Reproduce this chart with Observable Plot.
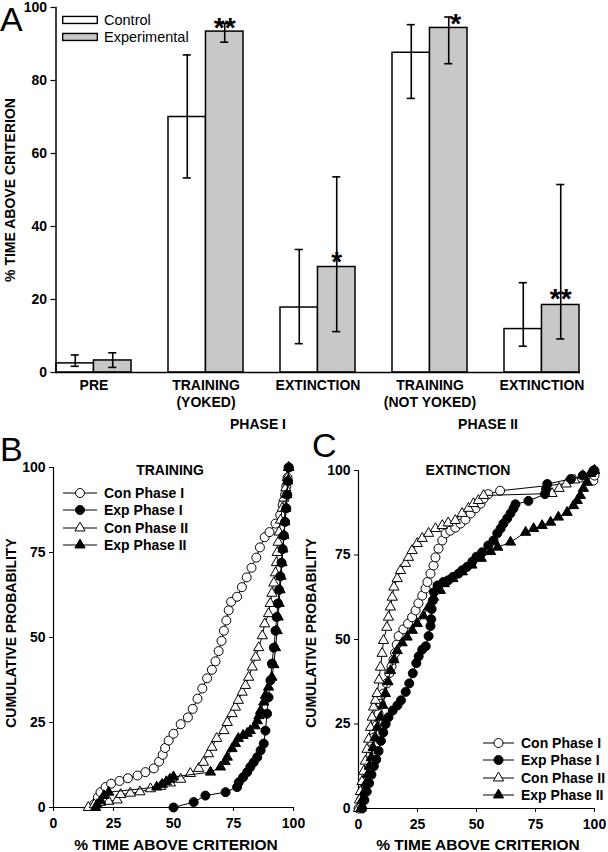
<!DOCTYPE html>
<html><head><meta charset="utf-8">
<script src="https://cdn.jsdelivr.net/npm/d3@7"></script>
<script src="https://cdn.jsdelivr.net/npm/@observablehq/plot@0.6"></script>
<style>
body{margin:0;background:#fff;}
#root{position:relative;width:608px;height:852px;font-family:"Liberation Sans",Arial,sans-serif;color:#000;overflow:hidden;background:#fff;}
#root svg{overflow:visible;}
.abs{position:absolute;white-space:nowrap;line-height:1;}
.b{font-weight:bold;font-size:14px;}
.xt{font-weight:bold;font-size:15.5px;}
.big{font-size:34px;font-weight:normal;}
.rot{transform:translate(-50%,-50%) rotate(-90deg);}
.ctr{transform:translate(-50%,-50%);}
.vc{transform:translateY(-50%);display:flex;align-items:center;}
</style></head><body><div id="root"></div>
<script>
// ---------- Panel A data ----------
const groupKeys = ["PRE", "TRAIN_Y", "EXT_I", "TRAIN_NY", "EXT_II"];
const groupLabels = ["PRE", "TRAINING\n(YOKED)", "EXTINCTION", "TRAINING\n(NOT YOKED)", "EXTINCTION"];
const conditions = ["Control", "Experimental"];
const controlMean = [2.5, 70.0, 17.8, 87.6, 11.9];
const controlLo   = [1.7, 53.3, 7.9, 75.1, 7.2];
const controlHi   = [4.8, 87.0, 33.7, 95.3, 24.6];
const expMean     = [3.3, 93.4, 28.9, 94.4, 18.5];
const expLo       = [1.4, 90.5, 11.2, 84.6, 9.2];
const expHi       = [5.4, 95.6, 53.6, 97.4, 51.5];
const sigMark     = ["", "**", "*", "*", "**"];
const sigY        = [null, 95.3, 31.1, 96.2, 21.0];
const yTicksA     = [0, 20, 40, 60, 80, 100];
const phaseLabels = ["PHASE I", "PHASE II"];

// ---------- Panel B/C data: [x = % time above criterion, y = cumulative probability] ----------
const seriesNames = ["Con Phase I", "Exp Phase I", "Con Phase II", "Exp Phase II"];
const cdfTicks = [0, 25, 50, 75, 100];

const trainConI = [[17,1],[18.5,3],[19.6,4.5],[21.7,6],[24,7],[27.5,7.8],[31,8.6],[35,9.4],[38.3,10.4],[41.8,11.5],[44,13.5],[45.5,15.5],[46.5,17.5],[48,19.7],[50,21.7],[53,24.5],[56,26.5],[58,29],[60,32],[62,35],[64,38],[66,40.5],[67.5,43],[68.8,46],[70,49],[71,52],[72,55],[73,58],[74,60.5],[76.5,62],[78.5,64.8],[80.5,67.7],[82.5,70.5],[84.5,73.5],[86,76.5],[88,79.5],[90,81],[92.5,83.5],[94.5,86],[95.5,89],[96.5,92],[97,94.5],[97.5,97],[98,100]];
const trainExpI = [[50,0],[58.4,1.6],[63.3,3.5],[71.7,4.5],[76.5,6],[77.2,7.4],[79,8.9],[80.7,10.4],[82,11.9],[83.4,13.3],[84.9,14.8],[86.3,16.8],[87.6,18.8],[88.3,22.6],[89,27.6],[89.6,32.4],[90.4,37.4],[91,42.3],[91.8,47],[92.5,52],[93,56],[93.5,60],[94,64],[94.5,68],[95,72],[95.5,76],[96,80],[96.5,84],[97,88],[97.4,92],[97.7,96],[98,100]];
const trainConII = [[14.5,0],[17,0.8],[19.6,1.5],[23,1.8],[26.5,2.2],[28,3.8],[32,4.2],[36,4.6],[40.4,5.5],[44.6,6.2],[48.7,7.2],[53,8.3],[57,10],[60.5,11.5],[62.5,13.3],[64.6,15.8],[66,17.7],[68,20.3],[71,22.6],[72.4,25],[74.4,27.6],[75.8,29.5],[77,31.5],[78.6,33.9],[80,35.9],[81.3,38.3],[82.8,41.3],[84.2,44.2],[85.5,47],[87,50.5],[88,54],[89.6,57],[90.3,60],[91,63],[91.8,66],[92.5,69],[92.9,72],[93.2,75],[93.6,78],[94,81],[94.6,84.5],[95.3,88],[96,91],[96.8,94],[97.4,97],[98,100]];
const trainExpII = [[17.5,0],[18.2,0.8],[19.6,2],[21,3.5],[23,4.5],[43,6],[45.3,6.8],[47,7.6],[48.5,8.3],[50,9],[65.4,10.4],[69.6,11.9],[71.5,13.5],[72.4,14.8],[74.4,17.3],[75.8,18.8],[77,20.3],[79,21.2],[80.7,21.8],[82,22.6],[84,24],[84.9,25.5],[85.6,27],[86.3,28.5],[87.6,31],[88.3,33],[89.6,35.4],[91,38.3],[91.8,42],[92.5,47],[93.2,52],[93.6,56],[94,60],[94.4,64],[94.8,68],[95.2,72],[95.6,76],[96,80],[96.4,84],[96.8,88],[97.2,92],[97.6,96],[98,100]];

const extConI = [[0,0],[1,2.5],[2,5],[3,8],[3.7,11],[4.5,14],[5.5,17.5],[6.5,21],[7.5,24.5],[8.5,28],[9.5,31],[10.5,34],[12,37],[13,40],[14,42],[14.8,44],[15.5,46],[16.2,48.5],[17,51],[19,53],[21,54.7],[22.7,56.6],[24.2,58.6],[25.4,60.7],[27,63],[28.4,65.1],[29.2,67],[30.5,69.5],[31.8,71.9],[32.6,74.3],[33.9,76.9],[35.5,79.3],[36.9,81.4],[38.9,82.2],[41,83.1],[43.2,84.3],[45.3,85.5],[47.5,87.3],[49.6,88.8],[51.7,90.2],[53,91.7],[55,93],[60,94],[99.5,97],[100,98.5],[100,100]];
const extExpI = [[1.5,0],[2.5,2.5],[3.5,5],[4.5,7.5],[5.5,10],[6.5,12.5],[7.5,14.5],[8.5,17],[9.5,20],[10.5,22.5],[11.5,25],[12.7,27],[14.5,29],[16.5,30.5],[18,32],[20,34.5],[21.5,37],[23,40],[24.5,43],[25.5,45],[27,47],[28.5,48],[29.7,51],[30.5,54],[30.8,56],[31,59],[31.5,61.5],[32,64],[33.5,66],[36,67],[38,67.5],[40,68.5],[42.4,69.5],[44,70.5],[46,71.5],[48.2,73],[50,74.5],[52.4,75.8],[55,77.8],[57.2,79.3],[58.8,81.4],[60.2,82.8],[61.4,84.3],[63,85.8],[64.4,87.3],[65.7,88.8],[66.5,90],[72,91],[79,93],[79.5,94.5],[80,96],[90,97.5],[95,98.5],[99.6,100]];
const extConII = [[0,0],[0.4,2.5],[0.8,5],[1.5,8],[2.2,11],[2.9,14],[3.6,17.5],[4.3,20.5],[5.1,24],[5.8,27],[6.4,30],[7.2,32],[7.9,34],[8.7,38],[9.3,41.8],[10,45.9],[10.6,49.7],[12,53.6],[12.7,56.6],[13.5,59.6],[14.3,62.5],[15,65.5],[16.4,68],[17.8,70.4],[19.9,72.5],[21.2,74.3],[22.7,76.3],[24.9,78.4],[27,79.9],[29.7,81.4],[32.6,82.8],[35.5,83.7],[38,84.5],[41,85.2],[43.9,87.3],[46.6,88.8],[48.7,90.2],[50.8,91.1],[53,92.6],[82,93.2],[85,94.7],[88,96],[91.5,97.2],[95,98.5],[98.3,99.1],[100,100]];
const extExpII = [[1,0],[1.6,2.5],[2.5,5],[3.2,7.5],[3.9,10],[4.6,12.5],[5.4,15],[6.2,18],[7,21],[8,24],[9.3,27],[10.3,30.5],[11.4,34],[12.5,37.5],[13.6,40.8],[15,44],[16.4,46.7],[18.5,49],[20.6,50.7],[22.8,52.7],[24.9,54.7],[27.5,57],[29.7,59.6],[31.8,62.5],[34.7,64.5],[36.4,66.5],[40,68],[44,70],[48,72],[52,74],[56,76],[59,77.3],[64.4,78.8],[70.8,81.7],[74.2,82.8],[77.8,83.7],[81.4,84.7],[84.7,86.2],[88.4,87.6],[91.1,89.6],[92.7,91.1],[94,92.6],[95.3,94.7],[96.9,96.5],[98.3,99.1],[100,100]];

// ---------- helpers ----------
const root = document.getElementById("root");
const FONT = '"Liberation Sans", Arial, sans-serif';
const baseStyle = {fontFamily: FONT, fontSize: "14px", fontWeight: "bold", color: "black", background: "transparent", overflow: "visible"};
function place(el, left, top) { el.style.position = "absolute"; el.style.left = left + "px"; el.style.top = top + "px"; root.appendChild(el); }
function label(text, cls, left, top) { const d = document.createElement("div"); d.className = "abs " + cls; d.textContent = text; d.style.left = left + "px"; d.style.top = top + "px"; root.appendChild(d); return d; }

// ---------- Panel A ----------
const barRows = groupKeys.flatMap((g, i) => [
  {group: g, cond: conditions[0], mean: controlMean[i], lo: controlLo[i], hi: controlHi[i]},
  {group: g, cond: conditions[1], mean: expMean[i], lo: expLo[i], hi: expHi[i]}
]);
const conRows = barRows.filter(d => d.cond === conditions[0]);
const expRows = barRows.filter(d => d.cond === conditions[1]);
const sigRows = groupKeys.map((g, i) => ({group: g, mark: sigMark[i], y: sigY[i]})).filter(d => d.mark);

const LA = {width: 608, height: 412, mL: 55.5, mR: 28, mT: 7, mB: 40};
const pInner = 1 / 3;
const bw = (LA.width - LA.mL - LA.mR) / (groupKeys.length - pInner) * (1 - pInner);
const half = bw / 2, q = bw / 4, cap = 4;

const plotA = Plot.plot({
  width: LA.width, height: LA.height,
  marginLeft: LA.mL, marginRight: LA.mR, marginTop: LA.mT, marginBottom: LA.mB,
  style: baseStyle,
  x: {type: "band", domain: groupKeys, paddingInner: pInner, paddingOuter: 0, axis: null},
  y: {domain: [0, 100]},
  marks: [
    Plot.barY(conRows, {x: "group", y: "mean", fill: "white", stroke: "black", strokeWidth: 1.5, insetRight: half}),
    Plot.barY(expRows, {x: "group", y: "mean", fill: "#c8c8c8", stroke: "black", strokeWidth: 1.5, insetLeft: half}),
    Plot.ruleX(conRows, {x: "group", y1: "lo", y2: "hi", dx: -q, strokeWidth: 1.6}),
    Plot.ruleX(expRows, {x: "group", y1: "lo", y2: "hi", dx: q, strokeWidth: 1.6}),
    Plot.tickY(conRows, {x: "group", y: "hi", insetLeft: q - cap, insetRight: 3 * q - cap, strokeWidth: 1.6}),
    Plot.tickY(conRows, {x: "group", y: "lo", insetLeft: q - cap, insetRight: 3 * q - cap, strokeWidth: 1.6}),
    Plot.tickY(expRows, {x: "group", y: "hi", insetLeft: 3 * q - cap, insetRight: q - cap, strokeWidth: 1.6}),
    Plot.tickY(expRows, {x: "group", y: "lo", insetLeft: 3 * q - cap, insetRight: q - cap, strokeWidth: 1.6}),
    Plot.ruleY([0], {strokeWidth: 1.5}),
    Plot.frame({anchor: "left", strokeWidth: 1.5}),
    Plot.axisY({ticks: yTicksA, tickSize: 5, tickPadding: 4, label: null, fontSize: 14, fontWeight: "bold", strokeWidth: 1.2}),
    Plot.text(groupKeys, {x: d => d, text: (d, i) => groupLabels[i], frameAnchor: "bottom", lineAnchor: "top", dy: 6, lineHeight: 1.2, fontSize: 14, fontWeight: "bold"}),
    Plot.text(sigRows.filter(d => d.group !== "TRAIN_NY"), {x: "group", y: "y", text: "mark", dx: q, dy: 3, lineAnchor: "middle", fontSize: 28, fontWeight: "bold"}),
    Plot.text(sigRows.filter(d => d.group === "TRAIN_NY"), {x: "group", y: "y", text: "mark", dx: q + 7, dy: 3, lineAnchor: "middle", fontSize: 28, fontWeight: "bold"})
  ]
});
place(plotA, 0, 0);

// Panel A legend
const legA = [{name: conditions[0], fill: "white"}, {name: conditions[1], fill: "#c8c8c8"}];
legA.forEach((d, i) => {
  const row = document.createElement("div");
  row.className = "abs vc";
  row.style.left = "62px"; row.style.top = (20 + i * 17) + "px";
  row.innerHTML = `<svg width="36" height="9" style="overflow:visible"><rect x="0.7" y="0.7" width="34.6" height="7" fill="${d.fill}" stroke="black" stroke-width="1.4"/></svg><span style="font-size:14.5px;margin-left:6px;">${d.name}</span>`;
  root.appendChild(row);
});

label("A", "big", 0, 2);
label(phaseLabels[0], "b ctr", 258, 424);
label(phaseLabels[1], "b ctr", 488, 424);
label("% TIME ABOVE CRITERION", "b rot", 10, 190);

// ---------- Panels B & C ----------
const styleFor = {
  "Con Phase I":  {symbol: "circle", fill: "white", r: 4.5},
  "Exp Phase I":  {symbol: "circle", fill: "black", r: 4.5},
  "Con Phase II": {symbol: "triangle", fill: "white", r: 3.8},
  "Exp Phase II": {symbol: "triangle", fill: "black", r: 3.8}
};
function toRows(arr, name) { return arr.map(([x, y]) => ({x, y, series: name})); }

function cdfPlot(seriesData, order, dims) {
  const marks = [
    Plot.ruleY([0], {strokeWidth: 1.2}),
    Plot.ruleX([0], {strokeWidth: 1.2}),
    Plot.axisX({ticks: cdfTicks, tickSize: 4, tickPadding: 7, label: null, fontSize: 14, fontWeight: "bold"}),
    Plot.axisY({ticks: cdfTicks, tickSize: 4, tickPadding: 4, label: null, fontSize: 14, fontWeight: "bold"})
  ];
  order.forEach(name => {
    const rows = seriesData[name];
    const s = styleFor[name];
    marks.push(Plot.line(rows, {x: "x", y: "y", stroke: "black", strokeWidth: 1}));
    marks.push(Plot.dot(rows, {x: "x", y: "y", symbol: () => s.symbol, r: s.r, fill: s.fill, stroke: "black", strokeWidth: 1}));
  });
  return Plot.plot({
    width: dims.width, height: 412,
    marginLeft: dims.mL, marginRight: dims.mR, marginTop: dims.mT, marginBottom: dims.mB,
    style: baseStyle,
    x: {domain: [0, 100]}, y: {domain: [0, 100]},
    symbol: {type: "identity"},
    marks
  });
}

const trainData = {
  "Con Phase I": toRows(trainConI, seriesNames[0]),
  "Exp Phase I": toRows(trainExpI, seriesNames[1]),
  "Con Phase II": toRows(trainConII, seriesNames[2]),
  "Exp Phase II": toRows(trainExpII, seriesNames[3])
};
const extData = {
  "Con Phase I": toRows(extConI, seriesNames[0]),
  "Exp Phase I": toRows(extExpI, seriesNames[1]),
  "Con Phase II": toRows(extConII, seriesNames[2]),
  "Exp Phase II": toRows(extExpII, seriesNames[3])
};

const plotB = cdfPlot(trainData, ["Con Phase I", "Con Phase II", "Exp Phase II", "Exp Phase I"], {width: 305, mL: 53, mR: 12, mT: 27, mB: 45});
place(plotB, 0, 440);
const plotC = cdfPlot(extData, ["Con Phase I", "Con Phase II", "Exp Phase II", "Exp Phase I"], {width: 303, mL: 53, mR: 14, mT: 30, mB: 44});
place(plotC, 305, 440);

label("B", "big", 0, 432);
label("C", "big", 312, 428);
label("TRAINING", "b ctr", 170, 470);
label("EXTINCTION", "b ctr", 468, 470);
label("CUMULATIVE PROBABILITY", "b rot", 11, 633);
label("CUMULATIVE PROBABILITY", "b rot", 311, 633);
label("% TIME ABOVE CRITERION", "xt ctr", 176, 845);
label("% TIME ABOVE CRITERION", "xt ctr", 478, 845);

function cdfLegend(x0, y0, step, lineW) {
  seriesNames.forEach((name, i) => {
    const s = styleFor[name];
    const path = d3.symbol(s.symbol === "circle" ? d3.symbolCircle : d3.symbolTriangle, Math.PI * s.r * s.r)();
    const row = document.createElement("div");
    row.className = "abs vc";
    row.style.left = x0 + "px"; row.style.top = (y0 + i * step) + "px";
    row.innerHTML = `<svg width="${lineW}" height="12" style="overflow:visible"><line x1="0" x2="${lineW}" y1="6" y2="6" stroke="black" stroke-width="1"/><path d="${path}" transform="translate(${lineW / 2},6)" fill="${s.fill}" stroke="black" stroke-width="1"/></svg><span class="b" style="margin-left:7px;">${name}</span>`;
    root.appendChild(row);
  });
}
cdfLegend(63, 493, 17.4, 34);
cdfLegend(483, 743, 17.3, 31);
</script></body></html>
